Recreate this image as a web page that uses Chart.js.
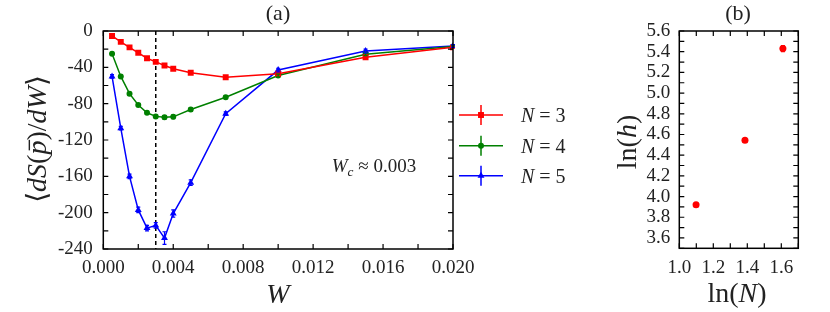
<!DOCTYPE html>
<html>
<head>
<meta charset="utf-8">
<script src="https://cdn.jsdelivr.net/npm/chart.js@4.4.1/dist/chart.umd.min.js"></script>
<style>
  body { margin: 0; background: #fff; }
  #wrap { position: relative; width: 830px; height: 312px; }
  canvas { position: absolute; top: 0; }
</style>
</head>
<body>
<div id="wrap">
  <canvas id="chartA" width="600" height="312" style="left:0"></canvas>
  <canvas id="chartB" width="230" height="312" style="left:600px"></canvas>
</div>
<script>
// panel (a) : <dS/dW> vs W
const wValues = [0.0005, 0.001, 0.0015, 0.002, 0.0025, 0.003, 0.0035, 0.004, 0.005, 0.007, 0.01, 0.015, 0.02];
const dsN3 = [-5.5, -12, -18, -24, -30, -34, -38, -41.5, -46, -51, -47, -29, -18];
const dsN4 = [-25, -50, -69, -81.5, -90, -94, -95, -94.5, -86.5, -73, -49, -25.5, -17];
const dsN5 = [-50, -107, -160, -197, -217, -214, -228, -201, -167, -91, -43, -22, -16.5];
const errN3 = [1, 1, 1, 1, 1, 1, 1.5, 1.5, 1.5, 1.5, 1.5, 1.5, 1];
const errN4 = [1.5, 1.5, 1.5, 1.5, 1.5, 1.5, 2, 2, 2, 1.5, 1.5, 1.5, 1];
const errN5 = [2, 2, 2.5, 3, 3, 3, 7, 4, 3, 2, 2, 2, 1.5];
const nValues = [3, 4, 5];
const wCritical = 0.003;
const xTicksA = [0, 0.004, 0.008, 0.012, 0.016, 0.02];
const yTicksA = [0, -40, -80, -120, -160, -200, -240];

// panel (b) : ln(h) vs ln(N)
const lnN = [1.0986, 1.3863, 1.6094];
const lnH = [3.92, 4.545, 5.43];
const errLnH = [0.01, 0.01, 0.03];
const xTicksB = [1.0, 1.2, 1.4, 1.6];
const yTicksB = [3.6, 3.8, 4.0, 4.2, 4.4, 4.6, 4.8, 5.0, 5.2, 5.4, 5.6];

const SERIF = "'Liberation Serif', 'DejaVu Serif', serif";
const INK = '#222';

function font(size, italic) {
  return (italic ? 'italic ' : '') + size + 'px ' + SERIF;
}

// draws text pieces side by side, some italic / subscript / with a bar on top
function drawRuns(ctx, runs, x, y, size, align) {
  let total = 0;
  runs.forEach(r => {
    ctx.font = font(r.sub ? size * 0.7 : size, r.it);
    r.w = ctx.measureText(r.t).width;
    total += r.w;
  });
  let cx = align === 'left' ? x : x - total / 2;
  ctx.textAlign = 'left';
  ctx.textBaseline = 'alphabetic';
  ctx.fillStyle = INK;
  runs.forEach(r => {
    ctx.font = font(r.sub ? size * 0.7 : size, r.it);
    ctx.fillText(r.t, cx, r.sub ? y + size * 0.2 : y);
    if (r.bar) ctx.fillRect(cx + r.w * 0.3, y - size * 0.62, r.w * 0.75, size * 0.05);
    cx += r.w;
  });
}

// frame + inward ticks on all four sides
function drawFrame(chart, xStep, yStep) {
  const ctx = chart.ctx;
  const { left, right, top, bottom } = chart.chartArea;
  const xs = chart.scales.x, ys = chart.scales.y;
  const len = 5;
  ctx.save();
  ctx.strokeStyle = '#000';
  ctx.lineWidth = 1.5;
  ctx.strokeRect(left, top, right - left, bottom - top);
  ctx.lineWidth = 1.2;
  ctx.beginPath();
  const nx = Math.round((xs.max - xs.min) / xStep);
  for (let i = 0; i <= nx; i++) {
    const px = xs.getPixelForValue(xs.min + i * xStep);
    ctx.moveTo(px, bottom); ctx.lineTo(px, bottom - len);
    ctx.moveTo(px, top); ctx.lineTo(px, top + len);
  }
  const ny = Math.round((ys.max - ys.min) / yStep);
  for (let i = 0; i <= ny; i++) {
    const py = ys.getPixelForValue(ys.min + i * yStep);
    ctx.moveTo(left, py); ctx.lineTo(left + len, py);
    ctx.moveTo(right, py); ctx.lineTo(right - len, py);
  }
  ctx.stroke();
  ctx.restore();
}

const errorBars = {
  id: 'errorBars',
  afterDatasetsDraw(chart) {
    const ctx = chart.ctx;
    const ys = chart.scales.y;
    ctx.save();
    chart.data.datasets.forEach((ds, i) => {
      if (!ds.errors) return;
      const meta = chart.getDatasetMeta(i);
      ctx.strokeStyle = ds.borderColor;
      ctx.lineWidth = 1.2;
      ctx.beginPath();
      meta.data.forEach((pt, j) => {
        const v = ds.data[j].y, e = ds.errors[j];
        const y1 = ys.getPixelForValue(v - e), y2 = ys.getPixelForValue(v + e);
        ctx.moveTo(pt.x, y1); ctx.lineTo(pt.x, y2);
        ctx.moveTo(pt.x - 2, y1); ctx.lineTo(pt.x + 2, y1);
        ctx.moveTo(pt.x - 2, y2); ctx.lineTo(pt.x + 2, y2);
      });
      ctx.stroke();
    });
    ctx.restore();
  }
};

const panelA = {
  id: 'panelA',
  beforeDatasetsDraw(chart) {
    const ctx = chart.ctx;
    const { top, bottom } = chart.chartArea;
    const px = chart.scales.x.getPixelForValue(wCritical);
    ctx.save();
    ctx.strokeStyle = '#000';
    ctx.lineWidth = 1.5;
    ctx.setLineDash([4, 3]);
    ctx.beginPath();
    ctx.moveTo(px, top); ctx.lineTo(px, bottom);
    ctx.stroke();
    ctx.restore();
  },
  afterDraw(chart) {
    const ctx = chart.ctx;
    drawFrame(chart, 0.002, 20);
    ctx.save();
    drawRuns(ctx, [{ t: '(a)' }], 278, 20, 22, 'center');
    drawRuns(ctx, [{ t: 'W', it: true }], 278, 303, 28, 'center');
    drawRuns(ctx, [{ t: 'W', it: true }, { t: 'c', it: true, sub: true }, { t: ' \u2248 0.003' }], 374, 172, 19, 'center');

    // rotated y title
    ctx.save();
    ctx.translate(38, 139);
    ctx.rotate(-Math.PI / 2);
    drawRuns(ctx, [
      { t: '\u27E8' }, { t: 'dS', it: true }, { t: '(' }, { t: 'p', it: true, bar: true },
      { t: ')/' }, { t: 'dW', it: true }, { t: '\u27E9' }
    ], 0, 8, 28, 'center');
    ctx.restore();

    // legend
    const rows = [115, 145.7, 175.7];
    chart.data.datasets.forEach((ds, i) => {
      const y = rows[i];
      ctx.strokeStyle = ds.borderColor;
      ctx.fillStyle = ds.borderColor;
      ctx.lineWidth = 1.5;
      ctx.beginPath();
      ctx.moveTo(459, y); ctx.lineTo(503, y);
      ctx.moveTo(481, y - 10); ctx.lineTo(481, y + 10);
      ctx.stroke();
      Chart.helpers.drawPoint(ctx, { pointStyle: ds.pointStyle, radius: ds.pointRadius, rotation: 0, borderWidth: 0 }, 481, y);
      drawRuns(ctx, [{ t: 'N', it: true }, { t: ' = ' + nValues[i] }], 521, y + 7, 20, 'left');
    });
    ctx.restore();
  }
};

const panelB = {
  id: 'panelB',
  afterDraw(chart) {
    const ctx = chart.ctx;
    drawFrame(chart, 0.1, 0.1);
    ctx.save();
    drawRuns(ctx, [{ t: '(b)' }], 138, 20, 22, 'center');
    drawRuns(ctx, [{ t: 'ln(' }, { t: 'N', it: true }, { t: ')' }], 137, 302, 28, 'center');
    ctx.translate(28, 142);
    ctx.rotate(-Math.PI / 2);
    drawRuns(ctx, [{ t: 'ln(' }, { t: 'h', it: true }, { t: ')' }], 0, 8, 28, 'center');
    ctx.restore();
  }
};

function makeSeries(values, errs, n, color, style, radius) {
  return {
    label: 'N = ' + n,
    data: wValues.map((w, i) => ({ x: w, y: values[i] })),
    errors: errs,
    borderColor: color,
    backgroundColor: color,
    borderWidth: 1.5,
    pointStyle: style,
    pointRadius: radius,
    pointBorderWidth: 0,
    tension: 0
  };
}

const tickFont = { family: SERIF, size: 19 };

new Chart(document.getElementById('chartA'), {
  type: 'line',
  data: {
    datasets: [
      makeSeries(dsN3, errN3, nValues[0], '#ff0000', 'rect', 4.2),
      makeSeries(dsN4, errN4, nValues[1], '#008000', 'circle', 3),
      makeSeries(dsN5, errN5, nValues[2], '#0000ff', 'triangle', 4)
    ]
  },
  options: {
    responsive: false,
    animation: false,
    devicePixelRatio: 1,
    layout: { padding: { left: 0, right: 147, top: 31, bottom: 0 } },
    plugins: { legend: { display: false }, tooltip: { enabled: false } },
    scales: {
      x: {
        type: 'linear', min: 0, max: 0.02,
        afterBuildTicks: s => { s.ticks = xTicksA.map(v => ({ value: v })); },
        afterFit: s => { s.height = 63; },
        grid: { display: false, drawTicks: false },
        border: { display: false },
        ticks: { font: tickFont, color: INK, padding: 8, autoSkip: false, maxRotation: 0, callback: v => v.toFixed(3) }
      },
      y: {
        min: -240, max: 0,
        afterBuildTicks: s => { s.ticks = yTicksA.map(v => ({ value: v })); },
        afterFit: s => { s.width = 103.3; },
        grid: { display: false, drawTicks: false },
        border: { display: false },
        ticks: { font: tickFont, color: INK, padding: 10.5, autoSkip: false, callback: v => String(v) }
      }
    }
  },
  plugins: [panelA, errorBars]
});

new Chart(document.getElementById('chartB'), {
  type: 'scatter',
  data: {
    datasets: [{
      data: lnN.map((x, i) => ({ x: x, y: lnH[i] })),
      errors: errLnH,
      borderColor: '#ff0000',
      backgroundColor: '#ff0000',
      pointStyle: 'circle',
      pointRadius: 3.5,
      pointBorderWidth: 0
    }]
  },
  options: {
    responsive: false,
    animation: false,
    devicePixelRatio: 1,
    layout: { padding: { left: 0, right: 31.7, top: 31, bottom: 0 } },
    plugins: { legend: { display: false }, tooltip: { enabled: false } },
    scales: {
      x: {
        type: 'linear', min: 1.0, max: 1.7,
        afterBuildTicks: s => { s.ticks = xTicksB.map(v => ({ value: v })); },
        afterFit: s => { s.height = 63.7; },
        grid: { display: false, drawTicks: false },
        border: { display: false },
        ticks: { font: tickFont, color: INK, padding: 8, autoSkip: false, maxRotation: 0, callback: v => v.toFixed(1) }
      },
      y: {
        min: 3.5, max: 5.6,
        afterBuildTicks: s => { s.ticks = yTicksB.map(v => ({ value: v })); },
        afterFit: s => { s.width = 79.3; },
        grid: { display: false, drawTicks: false },
        border: { display: false },
        ticks: { font: tickFont, color: INK, padding: 9, autoSkip: false, callback: v => v.toFixed(1) }
      }
    }
  },
  plugins: [panelB, errorBars]
});
</script>
</body>
</html>
